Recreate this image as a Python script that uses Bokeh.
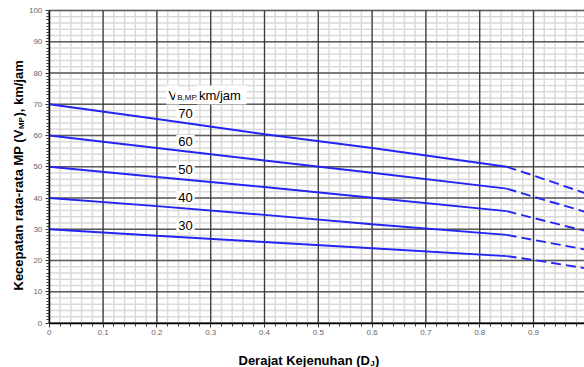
import math
from bokeh.plotting import figure
from bokeh.models import FixedTicker, Range1d, Label
from bokeh.embed import file_html
from bokeh.resources import INLINE

# ---------------- data ----------------
series_names = [70, 60, 50, 40, 30]          # V_B,MP km/jam
x_solid = [0, 0.2, 0.4, 0.6, 0.85]
y_solid = {
    70: [70, 65.3, 60.4, 56.0, 50.0],
    60: [60, 56.0, 52.0, 48.1, 43.0],
    50: [50, 46.7, 43.5, 40.1, 35.8],
    40: [40, 37.4, 34.6, 31.6, 28.2],
    30: [30, 27.9, 25.9, 23.9, 21.4],
}
x_dash = [0.85, 0.9, 1.0]
y_dash = {
    70: [50.0, 47.2, 41.3],
    60: [43.0, 40.4, 35.4],
    50: [35.8, 33.6, 29.3],
    40: [28.2, 26.6, 23.4],
    30: [21.4, 20.2, 17.4],
}
x_ticks = [0, 0.1, 0.2, 0.3, 0.4, 0.5, 0.6, 0.7, 0.8, 0.9, 1.0]
x_tick_labels = ["0", "0.1", "0.2", "0.3", "0.4", "0.5", "0.6", "0.7", "0.8", "0.9", "1"]
y_ticks = [0, 10, 20, 30, 40, 50, 60, 70, 80, 90, 100]

# ---------------- layout (canvas pixels) ----------------
W, H = 584, 367
X0_PX, X_PER = 48.8, 538.0      # pixel of x=0, pixels per unit
Y0_PX, Y_PER = 322.5, 3.125     # pixel of y=0, pixels per unit

def dx(px):
    return (px - X0_PX) / X_PER

def dy(py):
    return (Y0_PX - py) / Y_PER

p = figure(width=W, height=H, output_backend="svg", toolbar_location=None,
           x_range=Range1d(dx(0), dx(W)), y_range=Range1d(dy(H), dy(0)),
           min_border=0, min_border_left=0, min_border_right=0,
           min_border_top=0, min_border_bottom=0)
p.outline_line_color = None
p.background_fill_color = "white"
p.xgrid.visible = False
p.ygrid.visible = False

x_minor = [round(i * 0.02, 2) for i in range(0, 51)]
y_minor_grid = list(range(0, 101, 2))
y_minor_ticks = list(range(0, 101, 1))
X_MAX = x_ticks[-1]
Y_MAX = y_ticks[-1]

# grid: minor first, then major
p.segment(x0=x_minor, y0=[0] * len(x_minor), x1=x_minor, y1=[Y_MAX] * len(x_minor),
          line_color="#dadada", line_width=1.5)
p.segment(x0=[0] * len(y_minor_grid), y0=y_minor_grid, x1=[X_MAX] * len(y_minor_grid),
          y1=y_minor_grid, line_color="#dadada", line_width=1.5)
p.segment(x0=[0] * len(y_ticks), y0=y_ticks, x1=[X_MAX] * len(y_ticks), y1=y_ticks,
          line_color="#5a5a5a", line_width=1.3)
p.segment(x0=x_ticks, y0=[0] * len(x_ticks), x1=x_ticks, y1=[Y_MAX] * len(x_ticks),
          line_color="#3a3a3a", line_width=1.3)

p.xaxis.ticker = FixedTicker(ticks=x_ticks, minor_ticks=x_minor)
p.yaxis.ticker = FixedTicker(ticks=y_ticks, minor_ticks=y_minor_ticks)
p.xaxis.major_label_overrides = {t: l for t, l in zip(x_ticks, x_tick_labels)}
p.xaxis.fixed_location = 0
p.yaxis.fixed_location = 0
p.xaxis.bounds = (0, X_MAX)
p.yaxis.bounds = (0, Y_MAX)

for ax in (p.xaxis, p.yaxis):
    ax.axis_line_color = "black"
    ax.axis_line_width = 1.5
    ax.major_tick_line_color = "#333333"
    ax.minor_tick_line_color = "#333333"
    ax.major_tick_out = 4
    ax.major_tick_in = 0
    ax.minor_tick_out = 3
    ax.minor_tick_in = 0
    ax.major_label_text_font = "Liberation Sans"
    ax.major_label_text_font_size = "8px"
    ax.major_label_text_color = "#666666"
    ax.major_label_standoff = 3
    ax.axis_label = None

BLUE = "#2424f4"
for n in series_names:
    p.line(x_solid, y_solid[n], line_color=BLUE, line_width=1.9)
    p.line(x_dash, y_dash[n], line_color=BLUE, line_width=1.9, line_dash="10 5")

FONT = "Liberation Sans"

def lab(text, px, py, size, bold=False, angle=0.0, align="left", baseline="alphabetic", bg=None, pad=0):
    kw = {}
    if bg:
        kw = dict(background_fill_color=bg, background_fill_alpha=1.0, padding=pad)
    p.add_layout(Label(x=dx(px), y=dy(py), text=text, text_font=FONT,
                       text_font_size=f"{size}px", text_font_style="bold" if bold else "normal",
                       text_color="black", angle=angle, text_align=align,
                       text_baseline=baseline, **kw))

# series labels
lab("V", 166, 94.5, 13, bg="white", pad=2)
lab("B,MP,", 174.7, 97, 8, bg="white", pad=2)
lab(" km/jam", 196.5, 94.5, 13, bg="white", pad=2)
for i, n in enumerate(series_names):
    lab(str(n), 185, 112.7 + 28.1 * i, 13, align="center", baseline="middle", bg="white", pad=2)

# y axis title (rotated)
a = math.pi / 2
lab("Kecepatan rata-rata MP (V", 18, 290, 13, bold=True, angle=a, baseline="middle")
lab("MP", 21, 290 - 161.4, 8, bold=True, angle=a, baseline="middle")
lab("), km/jam", 18, 290 - 161.4 - 12.5, 13, bold=True, angle=a, baseline="middle")

# x axis title
lab("Derajat Kejenuhan (D", 238, 359.5, 13, bold=True)
lab("J", 369.8, 362.5, 8, bold=True)
lab(")", 374.5, 359.5, 13, bold=True)

open("out.html", "w").write(file_html(p, INLINE))
